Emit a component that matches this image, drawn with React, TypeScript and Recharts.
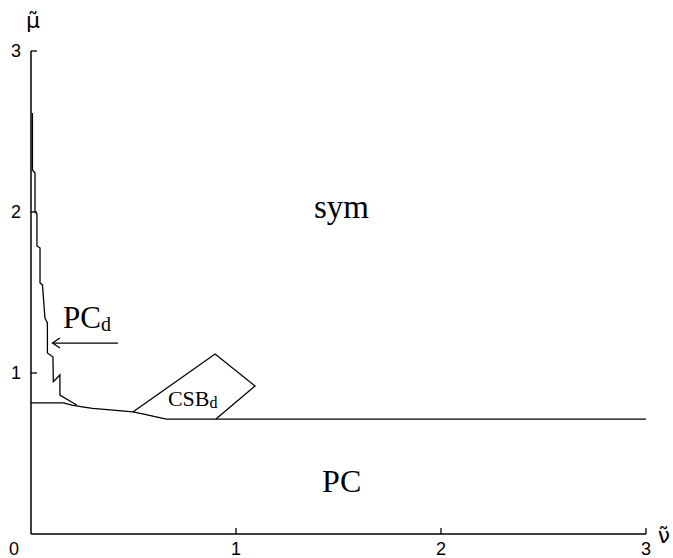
import React from 'react';
import { LineChart, Line, XAxis, YAxis, ReferenceDot } from 'recharts';

const xTicks = [0, 1, 2, 3];
const yTicks = [1, 2, 3];

// PC_d boundary (steep staircase near the mu-axis)
const pcdBoundary = [
  { x: 0.007, y: 2.615 }, { x: 0.007, y: 2.261 }, { x: 0.0195, y: 2.242 }, { x: 0.0195, y: 2.0 },
  { x: 0.029, y: 1.988 }, { x: 0.029, y: 1.789 }, { x: 0.044, y: 1.776 }, { x: 0.044, y: 1.559 },
  { x: 0.056, y: 1.547 }, { x: 0.068, y: 1.342 }, { x: 0.08, y: 1.311 }, { x: 0.08, y: 1.124 },
  { x: 0.107, y: 1.099 }, { x: 0.109, y: 0.946 }, { x: 0.141, y: 0.988 }, { x: 0.141, y: 0.863 },
  { x: 0.223, y: 0.801 },
];

// lower boundary (sym / PC)
const lowerBoundary = [
  { x: 0, y: 0.814 }, { x: 0.158, y: 0.814 }, { x: 0.2, y: 0.8 }, { x: 0.25, y: 0.79 },
  { x: 0.3, y: 0.78 }, { x: 0.4, y: 0.77 }, { x: 0.497, y: 0.758 }, { x: 0.55, y: 0.745 },
  { x: 0.6, y: 0.73 }, { x: 0.66, y: 0.714 }, { x: 3.0, y: 0.714 },
];

// CSB_d region outline
const csbRegion = [
  { x: 0.497, y: 0.758 }, { x: 0.898, y: 1.118 }, { x: 1.093, y: 0.919 }, { x: 0.902, y: 0.714 },
];

// arrow pointing to PC_d
const arrowShaft = [{ x: 0.424, y: 1.186 }, { x: 0.105, y: 1.186 }];
const arrowHead = [{ x: 0.141, y: 1.217 }, { x: 0.105, y: 1.186 }, { x: 0.141, y: 1.155 }];

// region labels: start x, baseline y
const texts = [
  { x: 1.38, y: 1.963, main: 'sym', sub: '', size: 33, subSize: 0 },
  { x: 1.42, y: 0.261, main: 'PC', sub: '', size: 32, subSize: 0 },
  { x: 0.156, y: 1.28, main: 'PC', sub: 'd', size: 31, subSize: 20 },
  { x: 0.668, y: 0.795, main: 'CSB', sub: 'd', size: 22, subSize: 16 },
];

const SANS = 'Liberation Sans, Arial, sans-serif';
const SERIF = 'Liberation Serif, Times New Roman, serif';

const XTick = (props: any) => {
  const { x, y, payload } = props;
  const v = payload.value;
  if (v === 0) {
    return (
      <text x={x - 17} y={y + 21} textAnchor="middle" fontSize={18} fontFamily={SANS} fill="#000">
        {String(v)}
      </text>
    );
  }
  return (
    <g>
      <line x1={x} y1={y} x2={x} y2={y - 6} stroke="#000" strokeWidth={1.3} />
      <text x={x} y={y + 21} textAnchor="middle" fontSize={18} fontFamily={SANS} fill="#000">
        {String(v)}
      </text>
    </g>
  );
};

const YTick = (props: any) => {
  const { x, y, payload } = props;
  return (
    <g>
      <line x1={x} y1={y} x2={x + 6} y2={y} stroke="#000" strokeWidth={1.3} />
      <text x={x - 10} y={y} dy="0.36em" textAnchor="end" fontSize={18} fontFamily={SANS} fill="#000">
        {String(payload.value)}
      </text>
    </g>
  );
};

const makeTextShape = (main: string, sub: string, size: number, subSize: number) => (props: any) => {
  const { cx, cy } = props;
  return (
    <text x={cx} y={cy} textAnchor="start" fontSize={size} fontFamily={SERIF} fill="#000">
      <tspan>{main}</tspan>
      {sub ? <tspan fontSize={subSize} dy={size * 0.1}>{sub}</tspan> : null}
    </text>
  );
};

const makeAxisName = (name: string) => (props: any) => {
  const { cx, cy } = props;
  return (
    <text x={cx} y={cy} textAnchor="middle" fontSize={22} fontFamily="DejaVu Sans, sans-serif" fill="#000">
      {name}
    </text>
  );
};

const lineProps = {
  type: 'linear' as const,
  dataKey: 'y',
  stroke: '#000',
  strokeWidth: 1.3,
  dot: false,
  isAnimationActive: false,
  activeDot: false,
};

export default function App() {
  return (
    <div style={{ position: 'absolute', left: 0, top: 0, background: '#fff' }}>
      <LineChart width={673} height={558} margin={{ top: 51, right: 27, bottom: 0, left: 0 }}>
        <XAxis
          type="number"
          dataKey="x"
          domain={[0, 3]}
          ticks={xTicks}
          interval={0}
          height={24}
          tickSize={0}
          tickMargin={0}
          tickLine={false}
          axisLine={{ stroke: '#000', strokeWidth: 1.5 }}
          tick={<XTick />}
          allowDataOverflow
        />
        <YAxis
          type="number"
          domain={[0, 3]}
          ticks={yTicks}
          interval={0}
          width={31}
          tickSize={0}
          tickMargin={0}
          tickLine={false}
          axisLine={{ stroke: '#000', strokeWidth: 1.5 }}
          tick={<YTick />}
          allowDataOverflow
        />
        <Line {...lineProps} data={pcdBoundary} />
        <Line {...lineProps} data={lowerBoundary} />
        <Line {...lineProps} data={csbRegion} />
        <Line {...lineProps} data={arrowShaft} />
        <Line {...lineProps} data={arrowHead} />
        {texts.map((t, i) => (
          <ReferenceDot key={i} x={t.x} y={t.y} r={1} ifOverflow="visible" shape={makeTextShape(t.main, t.sub, t.size, t.subSize)} />
        ))}
        <ReferenceDot x={0.01} y={3.143} r={1} ifOverflow="visible" shape={makeAxisName('μ̃')} />
        <ReferenceDot x={3.087} y={-0.056} r={1} ifOverflow="visible" shape={makeAxisName('ν̃')} />
      </LineChart>
    </div>
  );
}
